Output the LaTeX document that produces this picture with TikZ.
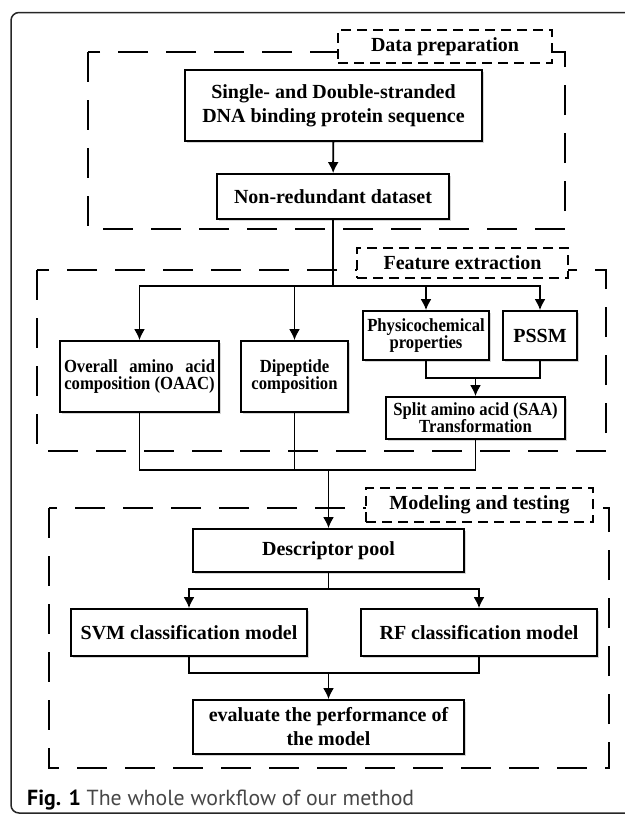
\documentclass[tikz,border=0pt]{standalone}
\usepackage{fontspec}
\setmainfont{Liberation Serif}
\newfontfamily\capfont{PT Sans}
\newfontfamily\condfont[FakeStretch=0.9]{Liberation Serif}
\usetikzlibrary{arrows.meta,shadows}
\tikzset{
  box/.style={draw, fill=white, line width=1.8pt, inner sep=0pt, align=center,
    drop shadow={shadow xshift=2pt, shadow yshift=-2pt, fill=black!16, opacity=1},
    font=\bfseries\fontsize{20}{24}\selectfont},
  sbox/.style={box, font=\condfont\bfseries\fontsize{18.5}{17}\selectfont},
  group/.style={draw, line width=2pt, dash pattern=on 30pt off 18pt},
  glabel/.style={draw, fill=white, line width=1.9pt, dash pattern=on 10pt off 6pt, inner sep=0pt, font=\bfseries\fontsize{20}{24}\selectfont},
  conn/.style={line width=1.9pt},
  arr/.style={conn, -{Latex[length=11pt,width=11pt]}},
}
\begin{document}
\begin{tikzpicture}[x=1pt,y=-1pt]
\useasboundingbox (0,0) rectangle (624,814);
% outer frame
\draw[line width=1.5pt, black!85, rounded corners=8pt] (11,12.5) rectangle (660,813);

% groups
\draw[group] (88,52) rectangle (565,229);
\draw[group] (37,270) rectangle (606,451);
\draw[group] (49,508) rectangle (609,768);
\node[glabel, minimum width=214pt, minimum height=33pt] (lab1) at (445,46.5) {Data preparation};
\node[glabel, minimum width=211pt, minimum height=30pt] (lab2) at (462.5,263) {Feature extraction};
\node[glabel, minimum width=227pt, minimum height=34pt] (lab3) at (479.5,505) {Modeling and testing};

% boxes
\node[box, minimum width=297pt, minimum height=71pt] (b1) at (333.5,105.5) {Single- and Double-stranded\\DNA binding protein sequence};
\node[box, minimum width=232pt, minimum height=45pt] (b2) at (333,196.5) {Non-redundant dataset};
\node[sbox, minimum width=159pt, minimum height=71pt] (oaac) at (139.5,376.5) {\makebox[151pt][s]{Overall amino acid}\\composition (OAAC)};
\node[sbox, minimum width=107pt, minimum height=71pt] (dip) at (294.5,376.5) {Dipeptide\\composition};
\node[sbox, minimum width=126pt, minimum height=49pt] (phys) at (426,335.5) {Physicochemical\\properties};
\node[box, minimum width=74pt, minimum height=49pt] (pssm) at (540,335.5) {PSSM};
\node[sbox, minimum width=179pt, minimum height=42pt] (saa) at (475.5,418) {Split amino acid (SAA)\\Transformation};
\node[box, minimum width=271pt, minimum height=43pt] (pool) at (328.5,550.5) {Descriptor pool};
\node[box, minimum width=236pt, minimum height=47pt] (svm) at (189,632.5) {SVM classification model};
\node[box, minimum width=236pt, minimum height=47pt] (rf) at (479,632.5) {RF classification model};
\node[box, minimum width=271pt, minimum height=54pt] (eval) at (328.5,727) {evaluate the performance of\\the model};

% junction points
\coordinate (s1) at (333,286);
\coordinate (m1) at (475.5,378);
\coordinate (m2) at (328.5,470);
\coordinate (s2) at (328.5,589);
\coordinate (m3) at (328.5,673);

% connectors
\draw[arr] (b1) -- (b2);
\draw[conn] (b2.south) -- (s1);
\draw[arr] (s1) -| (oaac.north);
\draw[arr] (s1) -| (dip.north);
\draw[arr] (s1) -| (phys.north);
\draw[arr] (s1) -| (pssm.north);
\draw[conn] (phys.south) |- (m1);
\draw[conn] (pssm.south) |- (m1);
\draw[arr] (m1) -- (saa.north);
\draw[conn] (oaac.south) |- (m2);
\draw[conn] (dip.south) |- (m2);
\draw[conn] (saa.south) |- (m2);
\draw[arr] (m2) -- (pool.north);
\draw[conn] (pool.south) -- (s2);
\draw[arr] (s2) -| (svm.north);
\draw[arr] (s2) -| (rf.north);
\draw[conn] (svm.south) |- (m3);
\draw[conn] (rf.south) |- (m3);
\draw[arr] (m3) -- (eval.north);

% caption
\node[anchor=base west, inner sep=0pt, font=\capfont\fontsize{21.8}{26}\selectfont] (cap) at (27,805) {\textbf{Fig. 1} \textcolor{black!72}{The whole workflow of our method}};
\end{tikzpicture}
\end{document}
